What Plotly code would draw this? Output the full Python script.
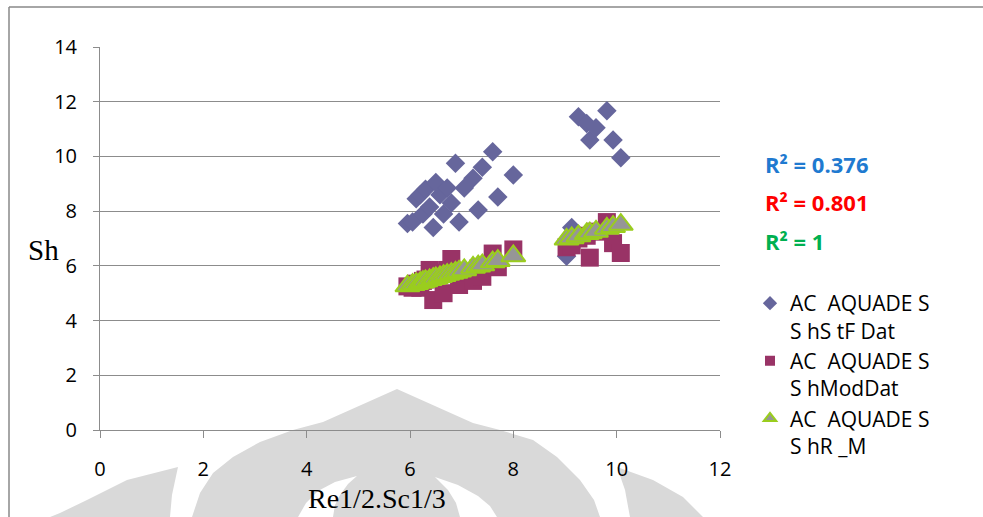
import plotly.graph_objects as go

# Re^(1/2).Sc^(1/3) values shared by the three series
x_vals = [5.95, 6.05, 6.12, 6.20, 6.25, 6.30, 6.38, 6.45, 6.50, 6.58, 6.65,
          6.72, 6.80, 6.88, 6.95, 7.05, 7.22, 7.32, 7.40, 7.60, 7.70, 8.00,
          9.03, 9.13, 9.26, 9.42, 9.48, 9.60, 9.81, 9.93, 10.08]

# Sh from experimental data (ShStFDat)
sh_exp = [7.55, 7.60, 8.45, 8.60, 7.90, 8.80, 8.15, 7.40, 9.05, 8.60, 7.90,
          8.85, 8.30, 9.75, 7.60, 8.85, 9.20, 8.04, 9.60, 10.17, 8.52, 9.32,
          6.35, 7.40, 11.45, 11.20, 10.60, 11.05, 11.67, 10.60, 9.95]

# Sh from the model (ShModDat)
sh_mod = [5.25, 5.20, 5.35, 5.20, 5.45, 5.50, 5.85, 4.75, 5.60, 5.75, 5.00,
          5.85, 6.25, 5.70, 5.30, 5.75, 5.45, 5.90, 5.60, 6.45, 5.95, 6.60,
          6.68, 6.75, 7.00, 7.10, 6.30, 7.25, 7.60, 6.83, 6.47]

# Sh from the regression (ShR_M)
sh_rm = [5.26, 5.31, 5.35, 5.39, 5.42, 5.45, 5.49, 5.53, 5.56, 5.60, 5.64,
         5.68, 5.72, 5.76, 5.80, 5.85, 5.94, 5.99, 6.03, 6.14, 6.19, 6.36,
         6.97, 7.02, 7.09, 7.17, 7.20, 7.26, 7.37, 7.43, 7.51]

series_names = ["AC  AQUADE S<br>S hS tF Dat",
                "AC  AQUADE S<br>S hModDat",
                "AC  AQUADE S<br>S hR _M"]
r2_labels = ["R² = 0.376", "R² = 0.801", "R² = 1"]
r2_colors = ["#1F7AD0", "#FF0000", "#00B050"]

x_ticks = [0, 2, 4, 6, 8, 10, 12]
y_ticks = [0, 2, 4, 6, 8, 10, 12, 14]

W, H = 983, 517
ML, MR, MT, MB = 100, 263, 47, 87
PW, PH = W - ML - MR, H - MT - MB


def to_paper(px, py):
    return (px - ML) / PW, (H - MB - py) / PH


def path_from(points):
    pts = [to_paper(a, b) for a, b in points]
    s = "M {:.4f},{:.4f}".format(*pts[0])
    for p in pts[1:]:
        s += " L {:.4f},{:.4f}".format(*p)
    return s + " Z"


GRID = "#8C8C8C"
WM = "#D9D9D9"

fig = go.Figure()

styles = [
    dict(symbol="diamond", color="#66669C", size=15, line=dict(width=0)),
    dict(symbol="square", color="#993366", size=18, line=dict(width=0)),
    dict(symbol="triangle-up", color="#969696", size=21,
         line=dict(width=2, color="#9ACD1E")),
]
legend_sizes = [11, 10, 11]
ys = [sh_exp, sh_mod, sh_rm]

for yv, st in zip(ys, styles):
    fig.add_trace(go.Scatter(x=x_vals, y=yv, mode="markers", marker=st,
                             showlegend=False, hoverinfo="x+y"))

# legend entries with smaller symbols
for name, st, ls in zip(series_names, styles, legend_sizes):
    m = dict(st)
    m["size"] = ls
    fig.add_trace(go.Scatter(x=[None], y=[None], mode="markers", marker=m,
                             name='<span style="font-size:21px">' + name + "</span>",
                             showlegend=True))

shapes = []
# background emblem
dome = [(192, 517), (200, 493), (213, 473), (233, 457), (260, 442), (293, 430),
        (323, 422), (397, 389), (473, 423), (500, 430), (533, 440), (557, 457),
        (580, 480), (594, 500), (600, 517)]
left_wing = [(178, 467), (127, 480), (87, 500), (60, 513), (50, 517), (170, 517),
             (172, 495)]
right_wing = [(617, 467), (653, 480), (683, 497), (703, 517), (630, 517), (625, 490)]
slit_left = [(298, 517), (306, 503), (318, 491), (335, 482), (357, 476),
             (348, 484), (340, 495), (335, 505), (333, 517)]
slit_right = [(435, 477), (458, 485), (478, 496), (490, 506), (497, 517),
              (460, 517), (456, 503), (448, 490)]
for pts, col in [(dome, WM), (left_wing, WM), (right_wing, WM),
                 (slit_left, "white"), (slit_right, "white")]:
    shapes.append(dict(type="path", xref="paper", yref="paper", layer="below",
                       path=path_from(pts), fillcolor=col, line=dict(width=0)))

# outer frame
x0, y0 = to_paper(9, 7)
x1, _ = to_paper(983, 7)
_, y1 = to_paper(9, 517)
shapes.append(dict(type="line", xref="paper", yref="paper", x0=x0, y0=y0, x1=x1, y1=y0,
                   line=dict(color="#888888", width=1.5)))
shapes.append(dict(type="line", xref="paper", yref="paper", x0=x0, y0=y0, x1=x0, y1=y1,
                   line=dict(color="#888888", width=1.5)))

annotations = []
for i, (lab, col) in enumerate(zip(r2_labels, r2_colors)):
    ax, ay = to_paper(763, [164, 202, 241][i])
    annotations.append(dict(xref="paper", yref="paper", x=ax, y=ay, text=lab,
                            showarrow=False, xanchor="left", yanchor="middle",
                            font=dict(family="Open Sans", size=22, color=col,
                                      weight="bold")))

sx, sy = to_paper(43, 250)
annotations.append(dict(xref="paper", yref="paper", x=sx, y=sy, text="Sh",
                        showarrow=False, xanchor="center", yanchor="middle",
                        font=dict(family="Liberation Serif", size=29, color="black")))
tx, ty = to_paper(377, 498)
annotations.append(dict(xref="paper", yref="paper", x=tx, y=ty, text="Re1/2.Sc1/3",
                        showarrow=False, xanchor="center", yanchor="middle",
                        font=dict(family="Liberation Serif", size=28, color="black")))

lx, ly = to_paper(750, 283)

fig.update_layout(
    width=W, height=H,
    margin=dict(l=ML, r=MR, t=MT, b=MB),
    paper_bgcolor="white",
    plot_bgcolor="rgba(0,0,0,0)",
    shapes=shapes,
    annotations=annotations,
    showlegend=True,
    legend=dict(x=lx, y=ly, xanchor="left", yanchor="top",
                font=dict(family="Open Sans", size=21, color="black"),
                bgcolor="rgba(0,0,0,0)", valign="top", itemwidth=30),
    font=dict(family="Open Sans", color="black"),
)

fig.update_xaxes(range=[0, 12], tickvals=x_ticks, ticktext=[str(v) for v in x_ticks],
                 showgrid=False, zeroline=False, showline=True, linecolor=GRID,
                 linewidth=1, ticks="outside", ticklen=7, tickcolor=GRID,
                 ticklabelstandoff=14, tickfont=dict(family="Open Sans", size=20))
fig.update_yaxes(range=[0, 14], tickvals=y_ticks, ticktext=[str(v) for v in y_ticks],
                 showgrid=True, gridcolor=GRID, gridwidth=1, zeroline=False,
                 showline=True, linecolor=GRID, linewidth=1, ticks="outside",
                 ticklen=6, tickcolor=GRID, ticklabelstandoff=12,
                 tickfont=dict(family="Open Sans", size=20))

fig.write_html("out.html")
